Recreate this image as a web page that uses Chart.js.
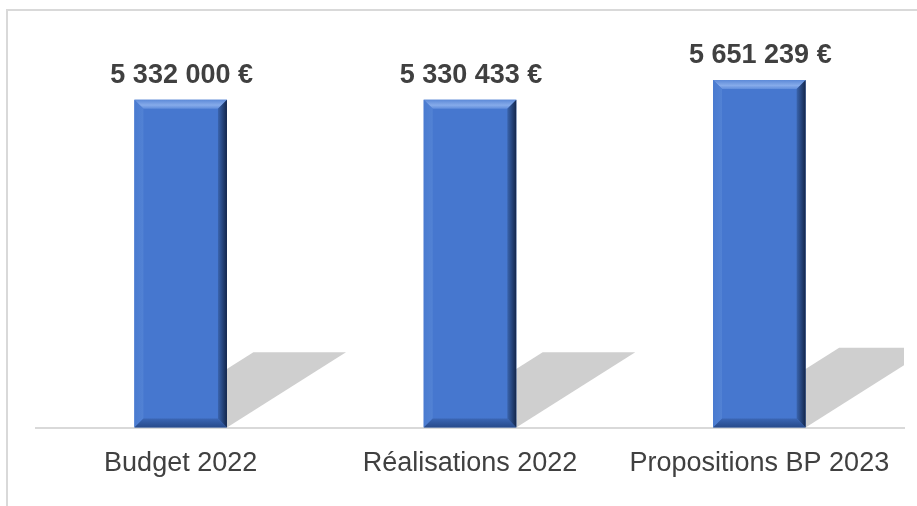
<!DOCTYPE html>
<html>
<head>
<meta charset="utf-8">
<script src="https://cdn.jsdelivr.net/npm/chart.js@4.4.1/dist/chart.umd.min.js"></script>
<style>
  html, body { margin: 0; padding: 0; background: #fff; }
  #wrap { position: relative; width: 917px; height: 506px; }
</style>
</head>
<body>
<div id="wrap"><canvas id="budgetChart"></canvas></div>
<script>
// categories + values
const categories = ['Budget 2022', 'Réalisations 2022', 'Propositions BP 2023'];
const amounts = [5332000, 5330433, 5651239];
const yMax = 6450000;

const textColor = '#404040';
const barColor = '#4677CF';

// "5 332 000 €"
function euro(v) {
    return String(v).replace(/\B(?=(\d{3})+(?!\d))/g, ' ') + ' €';
}

// light frame round the chart (top + left visible)
const framePlugin = {
    id: 'frame',
    beforeDraw(chart) {
        const ctx = chart.ctx;
        ctx.save();
        ctx.strokeStyle = '#d9d9d9';
        ctx.lineWidth = 2;
        ctx.beginPath();
        ctx.moveTo(7, chart.height);
        ctx.lineTo(7, 10);
        ctx.lineTo(chart.width, 10);
        ctx.stroke();
        ctx.restore();
    }
};

// grey slanted shadow behind each bar
const shadowPlugin = {
    id: 'barShadow',
    beforeDatasetsDraw(chart) {
        const ctx = chart.ctx;
        const area = chart.chartArea;
        const meta = chart.getDatasetMeta(0);
        ctx.save();
        ctx.beginPath();
        ctx.rect(area.left, area.top, area.right - area.left, area.bottom - area.top);
        ctx.clip();
        ctx.fillStyle = '#cfcfcf';
        meta.data.forEach(bar => {
            const p = bar.getProps(['x', 'y', 'base', 'width'], true);
            const h = p.base - p.y;
            const dx = h * 0.363;
            const dy = h * 0.23;
            const l = p.x - p.width / 2;
            const r = p.x + p.width / 2;
            ctx.beginPath();
            ctx.moveTo(l, p.base);
            ctx.lineTo(r, p.base);
            ctx.lineTo(r + dx, p.base - dy);
            ctx.lineTo(l + dx, p.base - dy);
            ctx.closePath();
            ctx.fill();
        });
        ctx.restore();
    }
};

// bevel edges on the bars + value labels on top
const bevelPlugin = {
    id: 'bevel',
    afterDatasetsDraw(chart) {
        const ctx = chart.ctx;
        const meta = chart.getDatasetMeta(0);
        const b = 9;
        ctx.save();
        meta.data.forEach((bar, i) => {
            const p = bar.getProps(['x', 'y', 'base', 'width'], true);
            const l = p.x - p.width / 2;
            const r = p.x + p.width / 2;
            const t = p.y;
            const bt = p.base;

            // top
            let g = ctx.createLinearGradient(0, t, 0, t + b);
            g.addColorStop(0, '#5d8ad8');
            g.addColorStop(0.6, '#86abea');
            g.addColorStop(1, '#5f8cdb');
            ctx.fillStyle = g;
            ctx.beginPath();
            ctx.moveTo(l, t); ctx.lineTo(r, t); ctx.lineTo(r - b, t + b); ctx.lineTo(l + b, t + b);
            ctx.closePath(); ctx.fill();

            // left
            g = ctx.createLinearGradient(l, 0, l + b, 0);
            g.addColorStop(0, '#4a7bd0');
            g.addColorStop(1, '#5282d4');
            ctx.fillStyle = g;
            ctx.beginPath();
            ctx.moveTo(l, t); ctx.lineTo(l + b, t + b); ctx.lineTo(l + b, bt - b); ctx.lineTo(l, bt);
            ctx.closePath(); ctx.fill();

            // bottom
            g = ctx.createLinearGradient(0, bt - b, 0, bt);
            g.addColorStop(0, '#3b66b4');
            g.addColorStop(1, '#274a8a');
            ctx.fillStyle = g;
            ctx.beginPath();
            ctx.moveTo(l, bt); ctx.lineTo(l + b, bt - b); ctx.lineTo(r - b, bt - b); ctx.lineTo(r, bt);
            ctx.closePath(); ctx.fill();

            // right
            g = ctx.createLinearGradient(r - b, 0, r, 0);
            g.addColorStop(0, '#3a64ae');
            g.addColorStop(0.6, '#223f73');
            g.addColorStop(1, '#14264a');
            ctx.fillStyle = g;
            ctx.beginPath();
            ctx.moveTo(r, t); ctx.lineTo(r, bt); ctx.lineTo(r - b, bt - b); ctx.lineTo(r - b, t + b);
            ctx.closePath(); ctx.fill();

            // value label
            ctx.fillStyle = textColor;
            ctx.font = 'bold 27px "Liberation Sans", Arial, sans-serif';
            ctx.textAlign = 'center';
            ctx.textBaseline = 'alphabetic';
            ctx.fillText(euro(amounts[i]), p.x + 1, t - 17);
        });
        ctx.restore();
    }
};

const ctx = document.getElementById('budgetChart').getContext('2d');
const myChart = new Chart(ctx, {
    type: 'bar',
    data: {
        labels: categories,
        datasets: [{
            data: amounts,
            backgroundColor: barColor,
            borderWidth: 0,
            barPercentage: 0.32,
            categoryPercentage: 1
        }]
    },
    options: {
        responsive: true,
        maintainAspectRatio: false,
        animation: false,
        layout: {
            padding: { left: 36, right: 13, top: 31, bottom: 6 }
        },
        plugins: {
            legend: { display: false },
            tooltip: { enabled: false }
        },
        scales: {
            x: {
                grid: { display: false, drawTicks: false },
                border: { display: true, color: '#d9d9d9', width: 2 },
                ticks: {
                    color: textColor,
                    font: { family: '"Liberation Sans", Arial, sans-serif', size: 27 },
                    padding: 20,
                    autoSkip: false,
                    maxRotation: 0
                }
            },
            y: {
                display: false,
                min: 0,
                max: yMax
            }
        }
    },
    plugins: [framePlugin, shadowPlugin, bevelPlugin]
});
</script>
</body>
</html>
